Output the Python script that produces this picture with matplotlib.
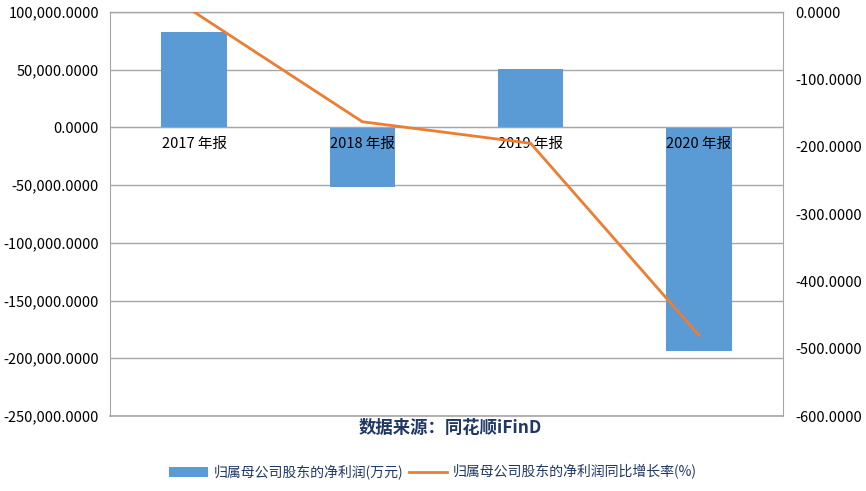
import matplotlib
matplotlib.use("Agg")
import matplotlib.pyplot as plt
from matplotlib.ticker import FuncFormatter, MultipleLocator
from matplotlib.patches import Patch
from matplotlib.lines import Line2D

plt.rcParams['font.family'] = ['Noto Sans CJK SC', 'DejaVu Sans']

categories = ["2017 年报", "2018 年报", "2019 年报", "2020 年报"]
net_profit = [82300, -51200, 50200, -193300]          # 万元
growth_rate = [0.0, -163.0, -195.0, -480.0]            # %
bar_label = "归属母公司股东的净利润(万元)"
line_label = "归属母公司股东的净利润同比增长率(%)"
source_text = "数据来源：同花顺iFinD"

bar_color = "#5B9BD5"
line_color = "#ED7D31"
grid_color = "#A6A6A6"

fig = plt.figure(figsize=(8.66, 4.91), dpi=100)
ax = fig.add_axes([110/866, 1-416/491, (783-110)/866, (416-12)/491])
x = list(range(len(categories)))

ax.bar(x, net_profit, width=0.39, color=bar_color, zorder=2)
ax.set_xlim(-0.5, len(categories)-0.5)
ax.set_ylim(-250000, 100000)
ax.yaxis.set_major_locator(MultipleLocator(50000))
ax.yaxis.set_major_formatter(FuncFormatter(lambda v, p: f"{v:,.4f}"))
ax.grid(axis='y', color=grid_color, linewidth=1, zorder=0)
ax.set_axisbelow(True)
ax.axhline(-250000, color=grid_color, linewidth=1.2, clip_on=False, zorder=1)
ax.axhline(100000, color=grid_color, linewidth=1.0, clip_on=False, zorder=1)

for s in ['top', 'right']:
    ax.spines[s].set_visible(False)
ax.spines['left'].set_color(grid_color)
ax.spines['bottom'].set_position(('data', 0))
ax.spines['bottom'].set_color(grid_color)
ax.set_xticks(x)
ax.set_xticklabels(categories)
ax.tick_params(axis='x', length=0, pad=7, labelsize=10.5, labelcolor="#000000")
ax.tick_params(axis='y', length=0, pad=8, labelsize=10.5, labelcolor="#000000")
ax.xaxis.set_zorder(3)

ax2 = ax.twinx()
ax2.plot(x, growth_rate, color=line_color, linewidth=2, zorder=4)
ax2.set_ylim(-600, 0)
ax2.yaxis.set_major_locator(MultipleLocator(100))
ax2.yaxis.set_major_formatter(FuncFormatter(lambda v, p: f"{v:.4f}"))
ax2.tick_params(axis='y', length=0, pad=9, labelsize=10.5, labelcolor="#000000")
for s in ['top', 'left', 'bottom']:
    ax2.spines[s].set_visible(False)
ax2.spines['right'].set_color(grid_color)

fig.text(450/866, 1-428/491, source_text, ha='center', va='center',
         fontsize=12.5, fontweight='bold', color="#1F3864")

handles = [Patch(facecolor=bar_color, edgecolor='none'),
           Line2D([0], [0], color=line_color, linewidth=2)]
leg = fig.legend(handles, [bar_label, line_label], loc='center',
                 bbox_to_anchor=(433/866, 1-472/491), ncol=2, frameon=False,
                 fontsize=10, handlelength=2.8, handleheight=0.7, columnspacing=0.4,
                 handletextpad=0.4)
for t in leg.get_texts():
    t.set_color("#1F3864")

fig.savefig("out.png", dpi=100)
